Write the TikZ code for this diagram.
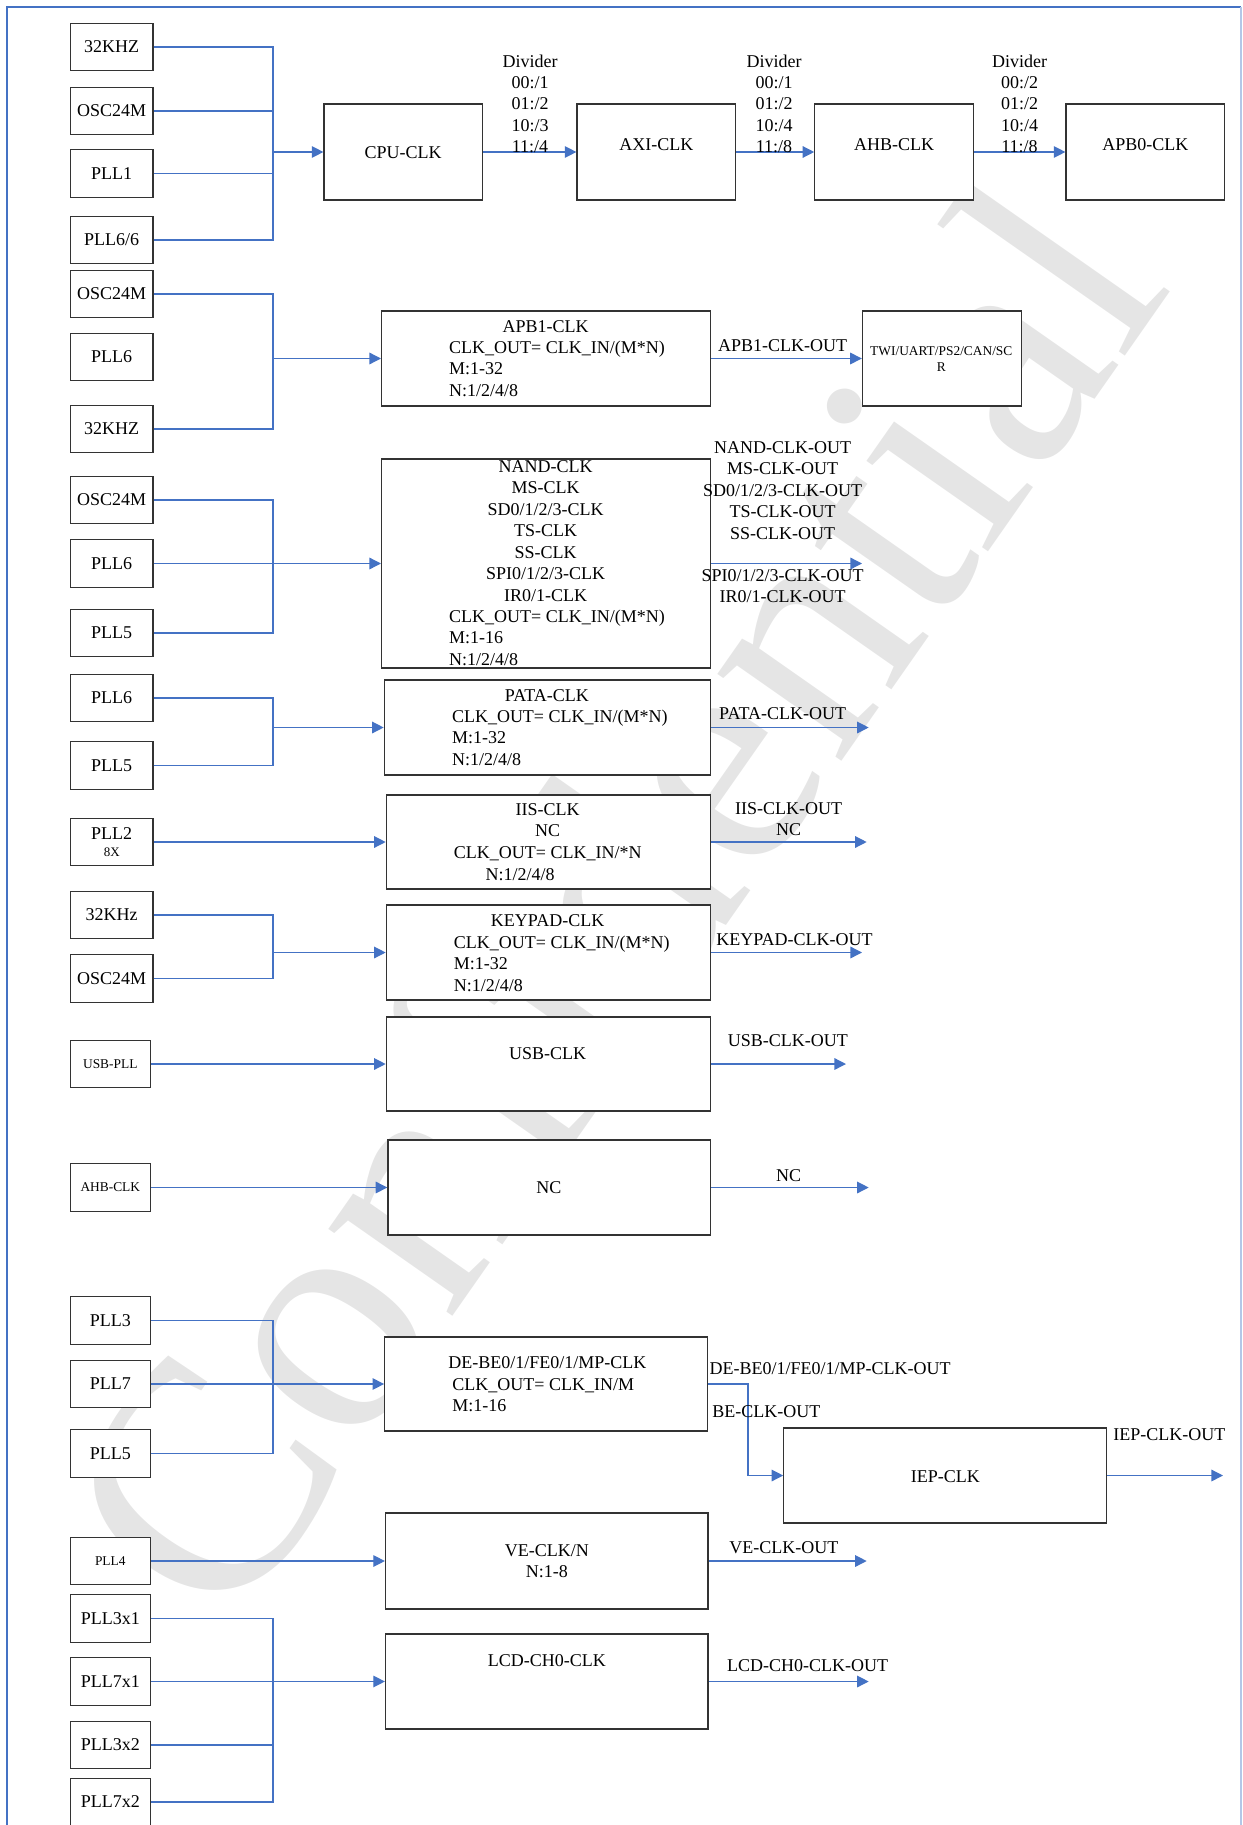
\documentclass[tikz,border=0pt]{standalone}
\usepackage{fontspec}
\setmainfont{Liberation Serif}
\usepackage{tikz}
\usetikzlibrary{arrows.meta}
\usetikzlibrary{fit}
\definecolor{wireblue}{RGB}{68,114,196}

\begin{document}
\begin{tikzpicture}[x=0.5pt, y=-0.5pt,
        src/.style={draw=black!80, fill=white, line width=0.6pt, minimum width=41.3pt, minimum height=23.8pt, inner sep=0pt, font=\fontsize{9}{10.75}\selectfont},
        srcs/.style={src, minimum width=40pt},
        blk/.style={draw=black!80, fill=white, line width=0.6pt, inner sep=0pt},
        txt/.style={inner sep=0pt, anchor=base, align=center, font=\fontsize{9}{10.75}\selectfont},
        txtl/.style={txt, anchor=base west, align=left},
        smalltxt/.style={font=\fontsize{6.7}{8}\selectfont},
        wire/.style={draw=wireblue, line width=0.65pt},
        feed/.style={wire, -{Triangle[length=5.8pt, width=5.8pt]}}]
        \useasboundingbox (0,0) rectangle (1242,1825);
        \node[text=black!10, rotate=55, inner sep=0pt, font=\fontsize{165}{165}\selectfont] (wmark) at (607,897) {Confidential};
        \draw[wireblue, line width=1pt] (6.7,1825) -- (6.7,7.3) -- (1241,7.3);
        \draw[wireblue!40, line width=1pt] (1241,7.3) -- (1241,1825);

        \node[src] (nodeS1) at (111.7,47) {32KHZ};
        \node[src] (nodeS2) at (111.7,111) {OSC24M};
        \node[src] (nodeS3) at (111.7,173.5) {PLL1};
        \node[src] (nodeS4) at (111.7,240) {PLL6/6};
        \node[src] (nodeS5) at (111.7,294) {OSC24M};
        \node[src] (nodeS6) at (111.7,357) {PLL6};
        \node[src] (nodeS7) at (111.7,429) {32KHZ};
        \node[src] (nodeS8) at (111.7,500) {OSC24M};
        \node[src] (nodeS9) at (111.7,563.5) {PLL6};
        \node[src] (nodeS10) at (111.7,633) {PLL5};
        \node[src] (nodeS11) at (111.7,698) {PLL6};
        \node[src] (nodeS12) at (111.7,765.5) {PLL5};
        \node[src, align=center] (nodeS13) at (111.7,842) {PLL2\\[-2.6pt]{\fontsize{6.5}{7}\selectfont 8X}};
        \node[src] (nodeS14) at (111.7,915) {32KHz};
        \node[src] (nodeS15) at (111.7,978.5) {OSC24M};
        \node[srcs, smalltxt] (nodeS16) at (110.3,1064) {USB-PLL};
        \node[srcs, smalltxt] (nodeS17) at (110.3,1187.5) {AHB-CLK};
        \node[srcs] (nodeS18) at (110.3,1320.5) {PLL3};
        \node[srcs] (nodeS19) at (110.3,1384) {PLL7};
        \node[srcs] (nodeS20) at (110.3,1453.5) {PLL5};
        \node[srcs, smalltxt] (nodeS21) at (110.3,1561) {PLL4};
        \node[srcs] (nodeS22) at (110.3,1618.5) {PLL3x1};
        \node[srcs] (nodeS23) at (110.3,1681.5) {PLL7x1};
        \node[srcs] (nodeS24) at (110.3,1745) {PLL3x2};
        \node[srcs] (nodeS25) at (110.3,1802) {PLL7x2};

        \node[blk, fit={(324,104) (482.4,200)}] (nodeCPU) {};
        \node[blk, fit={(577,104) (735.8,200)}] (nodeAXI) {};
        \node[blk, fit={(814.8,104) (973.4,200)}] (nodeAHB) {};
        \node[blk, fit={(1066,104) (1224.5,200)}] (nodeAPB0) {};
        \node[blk, fit={(381.6,311) (710.4,406)}] (nodeAPB1) {};
        \node[blk, fit={(862.4,311) (1021.4,406)}] (nodeTWI) {};
        \node[blk, fit={(381.6,459) (710.4,668)}] (nodeNAND) {};
        \node[blk, fit={(384.3,680) (710.4,775)}] (nodePATA) {};
        \node[blk, fit={(386.3,795) (710.4,889)}] (nodeIIS) {};
        \node[blk, fit={(386.3,905) (710.4,1000)}] (nodeKEY) {};
        \node[blk, fit={(386.3,1017) (710.4,1111)}] (nodeUSB) {};
        \node[blk, fit={(387.9,1140) (710.4,1235)}] (nodeNC) {};
        \node[blk, fit={(384.7,1337) (707.3,1431)}] (nodeDE) {};
        \node[blk, fit={(783.8,1428) (1106.7,1523)}] (nodeIEP) {};
        \node[blk, fit={(385.5,1513) (708,1609)}] (nodeVE) {};
        \node[blk, fit={(385.5,1634) (708,1729)}] (nodeLCD) {};

        \coordinate (busCPU) at (273,152);
        \coordinate (busAPB) at (273,358.5);
        \coordinate (busNAND) at (273,563.5);
        \coordinate (busPATA) at (273,727.5);
        \coordinate (busKEY) at (273,952.5);
        \coordinate (busDE) at (273,1384);
        \coordinate (busLCD) at (273,1681.5);
        \coordinate (bendDE) at (748.1,1384);
        \coordinate (outNAND) at (862,563.5);
        \coordinate (outPATA) at (868.7,727.5);
        \coordinate (outIIS) at (866.7,842);
        \coordinate (outKEY) at (862,952.5);
        \coordinate (outUSB) at (846,1064);
        \coordinate (outNC) at (868.7,1187.5);
        \coordinate (outIEP) at (1223,1475.5);
        \coordinate (outVE) at (866.7,1561);
        \coordinate (outLCD) at (868.7,1681.5);

        \draw[wire] (nodeS1.east) -| (busCPU);
        \draw[wire] (nodeS2.east) -| (busCPU);
        \draw[wire] (nodeS3.east) -| (busCPU);
        \draw[wire] (nodeS4.east) -| (busCPU);
        \draw[feed] (busCPU) -- (nodeCPU.west);
        \draw[feed] (nodeCPU.east) -- (nodeAXI.west);
        \draw[feed] (nodeAXI.east) -- (nodeAHB.west);
        \draw[feed] (nodeAHB.east) -- (nodeAPB0.west);
        \draw[wire] (nodeS5.east) -| (busAPB);
        \draw[wire] (nodeS7.east) -| (busAPB);
        \draw[feed] (busAPB) -- (nodeAPB1.west);
        \draw[feed] (nodeAPB1.east) -- (nodeTWI.west);
        \draw[wire] (nodeS8.east) -| (busNAND);
        \draw[wire] (nodeS10.east) -| (busNAND);
        \draw[feed] (nodeS9.east) -- (nodeNAND.west);
        \draw[feed] (nodeNAND.east) -- (outNAND);
        \draw[wire] (nodeS11.east) -| (busPATA);
        \draw[wire] (nodeS12.east) -| (busPATA);
        \draw[feed] (busPATA) -- (nodePATA.west);
        \draw[feed] (nodePATA.east) -- (outPATA);
        \draw[feed] (nodeS13.east) -- (nodeIIS.west);
        \draw[feed] (nodeIIS.east) -- (outIIS);
        \draw[wire] (nodeS14.east) -| (busKEY);
        \draw[wire] (nodeS15.east) -| (busKEY);
        \draw[feed] (busKEY) -- (nodeKEY.west);
        \draw[feed] (nodeKEY.east) -- (outKEY);
        \draw[feed] (nodeS16.east) -- (nodeUSB.west);
        \draw[feed] (nodeUSB.east) -- (outUSB);
        \draw[feed] (nodeS17.east) -- (nodeNC.west);
        \draw[feed] (nodeNC.east) -- (outNC);
        \draw[wire] (nodeS18.east) -| (busDE);
        \draw[wire] (nodeS20.east) -| (busDE);
        \draw[feed] (nodeS19.east) -- (nodeDE.west);
        \draw[feed] (nodeDE.east) -- (bendDE) |- (nodeIEP.west);
        \draw[feed] (nodeIEP.east) -- (outIEP);
        \draw[feed] (nodeS21.east) -- (nodeVE.west);
        \draw[feed] (nodeVE.east) -- (outVE);
        \draw[wire] (nodeS22.east) -| (busLCD);
        \draw[wire] (nodeS24.east) -| (busLCD);
        \draw[wire] (nodeS25.east) -| (busLCD);
        \draw[feed] (nodeS23.east) -- (nodeLCD.west);
        \draw[feed] (nodeLCD.east) -- (outLCD);

        \node[txt] (divA) at (530,153) {Divider\\00:/1\\01:/2\\10:/3\\11:/4};
        \node[txt] (divB) at (774,153) {Divider\\00:/1\\01:/2\\10:/4\\11:/8};
        \node[txt] (divC) at (1019.5,153) {Divider\\00:/2\\01:/2\\10:/4\\11:/8};
        \node[txt] (tCPU) at (403,158) {CPU-CLK};
        \node[txt] (tAXI) at (656.4,150) {AXI-CLK};
        \node[txt] (tAHB) at (894,150) {AHB-CLK};
        \node[txt] (tAPB0) at (1145.3,150) {APB0-CLK};
        \node[txt] (tAPB1) at (545.7,332) {APB1-CLK};
        \node[txtl] (fAPB1) at (448.8,396) {CLK\_OUT= CLK\_IN/(M*N)\\M:1-32\\N:1/2/4/8};
        \node[txt] (oAPB1) at (782.6,351) {APB1-CLK-OUT};
        \node[txt, smalltxt] (tTWI) at (941.3,371.4) {TWI/UART/PS2/CAN/SC\\R};
        \node[txt] (tNAND) at (545.7,601) {NAND-CLK\\MS-CLK\\SD0/1/2/3-CLK\\TS-CLK\\SS-CLK\\SPI0/1/2/3-CLK\\IR0/1-CLK};
        \node[txtl] (fNAND) at (448.8,665) {CLK\_OUT= CLK\_IN/(M*N)\\M:1-16\\N:1/2/4/8};
        \node[txt] (oNANDa) at (782.6,539) {NAND-CLK-OUT\\MS-CLK-OUT\\SD0/1/2/3-CLK-OUT\\TS-CLK-OUT\\SS-CLK-OUT};
        \node[txt] (oNANDb) at (782.6,602.5) {SPI0/1/2/3-CLK-OUT\\IR0/1-CLK-OUT};
        \node[txt] (tPATA) at (546.9,701) {PATA-CLK};
        \node[txtl] (fPATA) at (451.6,765) {CLK\_OUT= CLK\_IN/(M*N)\\M:1-32\\N:1/2/4/8};
        \node[txt] (oPATA) at (782.6,719) {PATA-CLK-OUT};
        \node[txt] (tIIS) at (547.6,836.5) {IIS-CLK\\NC};
        \node[txtl] (fIIS) at (453.5,858) {CLK\_OUT= CLK\_IN/*N};
        \node[txtl] (nIIS) at (485.2,880) {N:1/2/4/8};
        \node[txt] (oIIS) at (788.6,835.5) {IIS-CLK-OUT\\NC};
        \node[txt] (tKEY) at (547.6,926) {KEYPAD-CLK};
        \node[txtl] (fKEY) at (453.5,991) {CLK\_OUT= CLK\_IN/(M*N)\\M:1-32\\N:1/2/4/8};
        \node[txt] (oKEY) at (794.5,945) {KEYPAD-CLK-OUT};
        \node[txt] (tUSB) at (547.6,1059) {USB-CLK};
        \node[txt] (oUSB) at (787.8,1046) {USB-CLK-OUT};
        \node[txt] (tNC) at (548.8,1193) {NC};
        \node[txt] (oNC) at (788.6,1181) {NC};
        \node[txtl] (tDE) at (448,1368) {DE-BE0/1/FE0/1/MP-CLK};
        \node[txtl] (fDE) at (452,1411.5) {CLK\_OUT= CLK\_IN/M\\M:1-16};
        \node[txtl] (oDE) at (709.2,1374) {DE-BE0/1/FE0/1/MP-CLK-OUT};
        \node[txtl] (oBE) at (712,1417) {BE-CLK-OUT};
        \node[txt] (tIEP) at (945.3,1482) {IEP-CLK};
        \node[txtl] (oIEP) at (1113,1440) {IEP-CLK-OUT};
        \node[txt] (tVE) at (546.9,1577.5) {VE-CLK/N\\N:1-8};
        \node[txt] (oVE) at (783.8,1553) {VE-CLK-OUT};
        \node[txt] (tLCD) at (546.9,1666) {LCD-CH0-CLK};
        \node[txt] (oLCD) at (807.6,1671) {LCD-CH0-CLK-OUT};
    \end{tikzpicture}
\end{document}
